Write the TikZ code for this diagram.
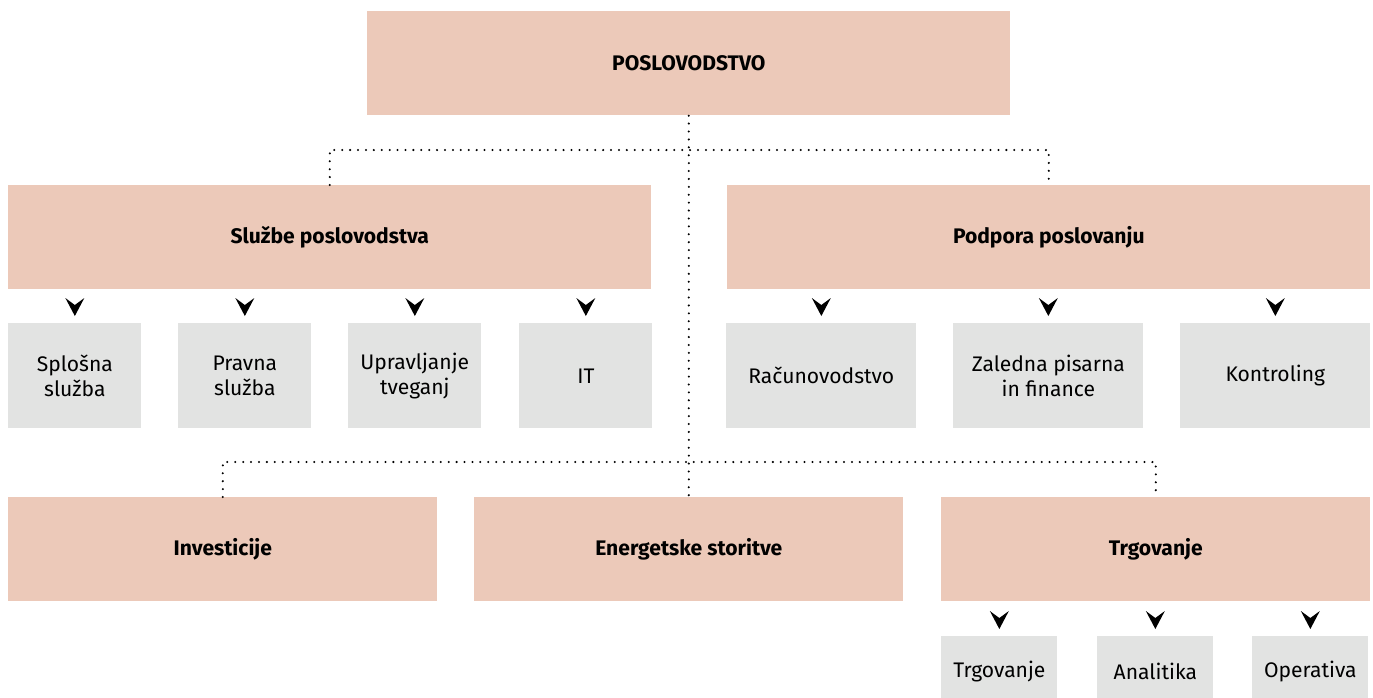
\documentclass[tikz,border=0pt]{standalone}
\usepackage{fontspec}
\setmainfont{Fira Sans}
\usepackage{tikz}
\usetikzlibrary{calc}
\definecolor{pinkbox}{RGB}{236,201,185}
\definecolor{graybox}{RGB}{226,227,226}
\tikzset{
	% Two box styles for the chart: departments and units
	dept box/.style={fill=pinkbox,inner sep=0,anchor=north west,font=\large\bfseries,minimum height=2.08cm},
	unit box/.style={fill=graybox,inner sep=0,anchor=north west,align=center,minimum height=2.1cm},
	% dotted connector
	dot line/.style={line width=1.3pt,dash pattern=on 0pt off 4.5pt,line cap=round}
}
\begin{document}
\begin{tikzpicture}[x=0.02cm,y=-0.02cm,font=\large]
				% macro for the small arrowheads above a unit
				\newcommand{\pointer}[1]{\fill ($(#1.north)+(-9.5,-25)$) -- ($(#1.north)+(0,-18)$) -- ($(#1.north)+(9.5,-25)$) -- ($(#1.north)+(0,-7)$) -- cycle;}
				\useasboundingbox (0,0) rectangle (1373,697);
				
				% Top level
				\node(uprava)[dept box,minimum width=12.86cm] at (367,11){POSLOVODSTVO};
				
				% Second row
				\node(sluzbe)[dept box,minimum width=12.86cm] at (8,185){Službe poslovodstva};
				\node(podpora)[dept box,minimum width=12.86cm] at (727,185){Podpora poslovanju};
				
				\node(splosna)[unit box,minimum width=2.66cm] at (8,323){Splošna\\služba};
				\node(pravna)[unit box,minimum width=2.66cm] at (178,323){Pravna\\služba};
				\node(tveganja)[unit box,minimum width=2.66cm] at (348,323){Upravljanje\\tveganj};
				\node(it)[unit box,minimum width=2.66cm] at (519,323){IT};
				
				\node(racunovodstvo)[unit box,minimum width=3.8cm] at (726,323){Računovodstvo};
				\node(zaledna)[unit box,minimum width=3.8cm] at (953,323){Zaledna pisarna\\in finance};
				\node(kontroling)[unit box,minimum width=3.8cm] at (1180,323){Kontroling};
				
				% Third row
				\node(investicije)[dept box,minimum width=8.58cm] at (8,497){Investicije};
				\node(energetske)[dept box,minimum width=8.58cm] at (474,497){Energetske storitve};
				\node(trgovanje)[dept box,minimum width=8.58cm] at (941,497){Trgovanje};
				
				\node(trg)[unit box,minimum width=2.32cm,minimum height=1.4cm] at (941,636){Trgovanje};
				\node(analitika)[unit box,minimum width=2.32cm,minimum height=1.4cm] at (1097,636){Analitika};
				\node(operativa)[unit box,minimum width=2.32cm,minimum height=1.4cm] at (1252,636){Operativa};
				
				% dotted connectors
				\draw[dot line] (uprava.south) -- (energetske.north);
				\coordinate (top bar) at ($(sluzbe.north)+(0,-35)$);
				\draw[dot line] (sluzbe.north) -- (top bar) -| (podpora.north);
				\coordinate (low bar) at ($(investicije.north)+(0,-35)$);
				\draw[dot line] (investicije.north) -- (low bar) -| (trgovanje.north);
				
				\pointer{splosna}
				\pointer{pravna}
				\pointer{tveganja}
				\pointer{it}
				\pointer{racunovodstvo}
				\pointer{zaledna}
				\pointer{kontroling}
				\pointer{trg}
				\pointer{analitika}
				\pointer{operativa}
			\end{tikzpicture}
\end{document}
